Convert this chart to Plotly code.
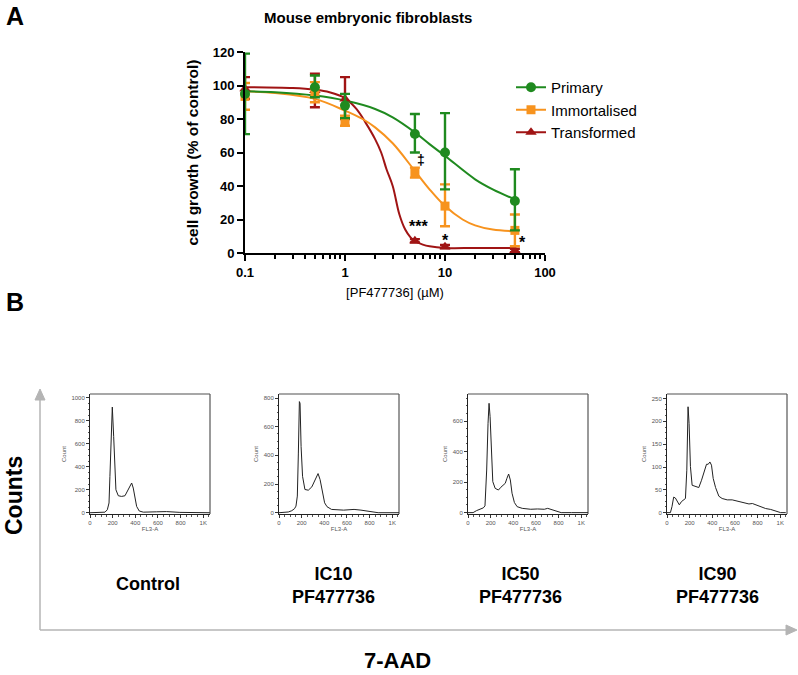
import math
import plotly.graph_objects as go

W, H = 798, 675
FONT = "Arial, Liberation Sans, sans-serif"

# ---------------- Panel A data ----------------
conc = [0.1, 0.5, 1, 5, 10, 50]

primary_mean = [95, 99, 88, 71, 60, 31]
primary_up = [24, 7, 7, 12, 23.5, 19]
primary_dn = [24, 6, 7.5, 11, 22, 17.5]

immort_mean = [93.5, 96, 79, 48, 28, 13.5]
immort_up = [8, 6, 3, 3, 13, 9.5]
immort_dn = [8, 6, 3, 3, 12, 9.5]

transf_mean = [98, 97, 92, 7.3, 3.8, 1.5]
transf_up = [7, 10, 13, 1, 1, 1]
transf_dn = [6, 10, 12, 1, 1, 1]

# fitted curves
primary_fit_x = [0.1, 0.2, 0.5, 1, 2, 3, 5, 7, 10, 20, 30, 50]
primary_fit_y = [96.5, 96, 94, 91, 86, 81, 72, 65, 58, 44, 38, 32]

immort_fit_x = [0.1, 0.2, 0.5, 1, 1.5, 2, 3, 5, 7, 10, 15, 20, 30, 50]
immort_fit_y = [96.5, 95.5, 92, 85, 80, 75, 65.5, 49, 38, 28, 20, 16.5, 14, 13]

transf_fit_x = [0.1, 0.3, 0.5, 0.7, 1, 1.3, 1.6, 2, 2.3, 2.6, 3, 3.5, 4, 4.5, 5, 6, 7, 10, 20, 50]
transf_fit_y = [99, 98.5, 97.5, 96, 92.5, 86, 78, 68, 60, 50, 40, 23, 14, 9.5, 7, 5, 4, 3, 3, 3]

# significance marks: (text, concentration, % value)
sig_marks = [("‡", 5.8, 55.5), ("***", 5.4, 18), ("*", 10.1, 9.7), ("*", 60, 8.8)]

# ---------------- Panel B data ----------------
ctrl_x = [0, 88, 132, 153, 168, 176, 185, 197, 209, 218, 229, 250, 279, 309, 329, 353, 368, 382, 397, 412, 435, 471, 588, 676, 794, 1059]
ctrl_y = [0, 2, 5, 26, 85, 316, 665, 920, 665, 375, 200, 148, 142, 148, 186, 244, 259, 215, 128, 55, 15, 5, 8, 10, 3, 0]

ic10_x = [0, 82, 113, 137, 150, 162, 171, 180, 186, 195, 208, 229, 259, 290, 321, 345, 363, 382, 403, 424, 464, 571, 663, 724, 785, 876, 1060]
ic10_y = [0, 5, 14, 28, 46, 116, 416, 775, 763, 462, 254, 162, 157, 180, 231, 273, 231, 139, 69, 42, 23, 18, 23, 18, 9, 0, 0]

ic50_x = [0, 45, 75, 105, 135, 150, 165, 177, 186, 195, 207, 219, 240, 269, 290, 308, 329, 344, 359, 374, 389, 410, 434, 479, 554, 614, 674, 704, 734, 778, 823, 913, 1060]
ic50_y = [0, 0, 13, 22, 31, 44, 279, 585, 716, 629, 367, 203, 159, 148, 166, 181, 192, 225, 253, 214, 127, 66, 39, 28, 22, 24, 22, 28, 22, 13, 0, 0, 0]

ic90_x = [0, 30, 44, 59, 74, 89, 109, 127, 148, 163, 175, 186, 195, 207, 222, 251, 281, 305, 325, 349, 364, 379, 393, 408, 429, 458, 487, 532, 576, 606, 635, 665, 694, 724, 754, 783, 827, 871, 916, 960, 1004, 1049]
ic90_y = [0, 0, 13, 34, 32, 24, 17, 24, 28, 31, 93, 232, 195, 101, 60, 58, 55, 71, 86, 106, 106, 111, 104, 75, 55, 36, 31, 28, 28, 26, 24, 23, 20, 19, 20, 17, 13, 9, 7, 4, 0, 0]

hist_labels = ["Control", "IC10<br>PF477736", "IC50<br>PF477736", "IC90<br>PF477736"]
hist_ymax = [1000, 800, 600, 250]
hist_ydtick = [200, 200, 200, 50]
hist_yrange = [[-11, 1034], [-9, 828], [-9, 777], [-3, 260]]
fl_ticks = [0, 200, 400, 600, 800, 1000]
fl_ticktext = ["0", "200", "400", "600", "800", "1K"]

GREEN = "#1f8a1f"
ORANGE = "#f7931e"
RED = "#a01414"


def px(x):
    return x / W


def py(y):
    return 1 - y / H


fig = go.Figure()

series = [
    ("Transformed", RED, "triangle-up", 10, transf_fit_x, transf_fit_y, transf_mean, transf_up, transf_dn),
    ("Immortalised", ORANGE, "square", 9, immort_fit_x, immort_fit_y, immort_mean, immort_up, immort_dn),
    ("Primary", GREEN, "circle", 10, primary_fit_x, primary_fit_y, primary_mean, primary_up, primary_dn),
]

for name, color, sym, ms, fx, fy, m, up, dn in series:
    fig.add_trace(go.Scatter(x=fx, y=fy, mode="lines", line=dict(color=color, width=2, shape="spline", smoothing=1.0),
                             showlegend=False, hoverinfo="skip", cliponaxis=False))
for name, color, sym, ms, fx, fy, m, up, dn in series:
    fig.add_trace(go.Scatter(x=conc, y=m, mode="markers", marker=dict(symbol=sym, size=ms, color=color),
                             error_y=dict(type="data", array=up, arrayminus=dn, color=color, thickness=2.4, width=5),
                             showlegend=False, cliponaxis=False))

# legend entries
for name, color, sym, ms in [("Primary", GREEN, "circle", 10), ("Immortalised", ORANGE, "square", 9),
                             ("Transformed", RED, "triangle-up", 10)]:
    fig.add_trace(go.Scatter(x=[None], y=[None], mode="lines+markers", name=name,
                             line=dict(color=color, width=2), marker=dict(symbol=sym, size=ms, color=color)))

# histograms
hist_data = [(ctrl_x, ctrl_y), (ic10_x, ic10_y), (ic50_x, ic50_y), (ic90_x, ic90_y)]
hist_left = [90, 279, 468, 667]
hist_w = 120
hist_top, hist_bot = 394, 514

layout_axes = {}
for i, ((hx, hy), left) in enumerate(zip(hist_data, hist_left)):
    n = i + 2
    fig.add_trace(go.Scatter(x=hx, y=hy, mode="lines", line=dict(color="#222222", width=1),
                             xaxis=f"x{n}", yaxis=f"y{n}", showlegend=False, hoverinfo="skip"))
    layout_axes[f"xaxis{n}"] = dict(
        domain=[px(left), px(left + hist_w)], range=[0, 1060], anchor=f"y{n}",
        showline=True, linecolor="#222222", linewidth=1, showgrid=False, zeroline=False,
        ticks="outside", ticklen=3, tickwidth=0.8, tickcolor="#333333",
        tickvals=fl_ticks, ticktext=fl_ticktext, tickfont=dict(size=6, color="#555555", family=FONT),
        minor=dict(ticks="outside", ticklen=1.5, dtick=50, tickcolor="#555555", tickwidth=0.6),
        title=dict(text="FL3-A", font=dict(size=6, color="#555555", family=FONT), standoff=0),
    )
    yt = list(range(0, hist_ymax[i] + 1, hist_ydtick[i]))
    layout_axes[f"yaxis{n}"] = dict(
        domain=[py(hist_bot), py(hist_top)], range=hist_yrange[i], anchor=f"x{n}",
        showline=True, linecolor="#222222", linewidth=1, showgrid=False, zeroline=False,
        ticks="outside", ticklen=3, tickwidth=0.8, tickcolor="#333333",
        tickvals=yt, tickfont=dict(size=6, color="#555555", family=FONT),
        minor=dict(ticks="outside", ticklen=1.5, dtick=hist_ydtick[i] / 4, tickcolor="#555555", tickwidth=0.6),
        title=dict(text="Count", font=dict(size=6, color="#555555", family=FONT), standoff=4),
    )

minor_x = [m * d for d in (0.1, 1, 10) for m in range(2, 10)]

fig.update_layout(
    width=W, height=H, margin=dict(l=0, r=0, t=0, b=0, pad=0, autoexpand=False),
    paper_bgcolor="white", plot_bgcolor="white",
    font=dict(family=FONT, color="black"),
    xaxis=dict(
        type="log", domain=[px(245), px(545)], range=[-1, 2], anchor="y",
        showline=True, linecolor="black", linewidth=2, showgrid=False, zeroline=False,
        ticks="outside", ticklen=6, tickwidth=2, tickcolor="black",
        tickvals=[0.1, 1, 10, 100], ticktext=["0.1", "1", "10", "100"],
        tickfont=dict(size=13, color="black", family=FONT, weight="bold"),
        minor=dict(ticks="outside", ticklen=3.5, tickwidth=1.5, tickcolor="black", tickvals=minor_x),
        title=dict(text="[PF477736] (µM)", font=dict(size=13, color="black", family=FONT), standoff=9),
    ),
    yaxis=dict(
        domain=[py(253), py(52)], range=[0, 120], anchor="x",
        showline=True, linecolor="black", linewidth=2, showgrid=False, zeroline=False,
        ticks="outside", ticklen=6, tickwidth=2, tickcolor="black",
        tickvals=[0, 20, 40, 60, 80, 100, 120],
        tickfont=dict(size=13, color="black", family=FONT, weight="bold"),
        title=dict(text="cell growth (% of control)", font=dict(size=15.5, color="black", family=FONT, weight="bold"),
                   standoff=10),
    ),
    legend=dict(x=px(511), y=py(71), xanchor="left", yanchor="top", bgcolor="rgba(0,0,0,0)",
                font=dict(size=15, color="black", family=FONT), itemwidth=30, tracegroupgap=0),
    **layout_axes,
)

# frames (top/right gray) of histograms
shapes = []
for left in hist_left:
    shapes.append(dict(type="line", xref="paper", yref="paper", x0=px(left), x1=px(left + hist_w),
                       y0=py(hist_top), y1=py(hist_top), line=dict(color="#8a8a8a", width=1.5), layer="below"))
    shapes.append(dict(type="line", xref="paper", yref="paper", x0=px(left + hist_w), x1=px(left + hist_w),
                       y0=py(hist_top), y1=py(hist_bot), line=dict(color="#555555", width=1.2), layer="below"))

# big gray axes with arrows
AG = "#b4b4b4"
shapes.append(dict(type="line", xref="paper", yref="paper", x0=px(40), x1=px(40), y0=py(630), y1=py(398),
                   line=dict(color=AG, width=1.5)))
shapes.append(dict(type="line", xref="paper", yref="paper", x0=px(40), x1=px(788), y0=py(630), y1=py(630),
                   line=dict(color=AG, width=1.5)))
shapes.append(dict(type="path", xref="paper", yref="paper",
                   path=f"M {px(35)},{py(400)} L {px(45)},{py(400)} L {px(40)},{py(389)} Z",
                   fillcolor=AG, line=dict(color=AG, width=1)))
shapes.append(dict(type="path", xref="paper", yref="paper",
                   path=f"M {px(786)},{py(625)} L {px(786)},{py(635)} L {px(797)},{py(630)} Z",
                   fillcolor=AG, line=dict(color=AG, width=1)))
fig.update_layout(shapes=shapes)


def note(text, x, y, size, **kw):
    return dict(text=text, x=px(x), y=py(y), xref="paper", yref="paper", showarrow=False,
                xanchor="center", yanchor="middle",
                font=dict(size=size, family=FONT, weight="bold", color="black"), **kw)


ann = [
    note("A", 15, 16, 25),
    note("B", 15, 302, 25),
    note("Mouse embryonic fibroblasts", 368, 18, 15),
]
for txt, xv, yv in sig_marks:
    star = txt != "‡"
    ann.append(dict(text=txt, x=math.log10(xv), y=yv, xref="x", yref="y", showarrow=False,
                    yshift=-4 if star else 0, xanchor="center", yanchor="middle",
                    font=dict(size=16 if star else 14, family=FONT, weight="bold", color="black")))
label_pos = [(148, 584), (333, 585), (520, 585), (717, 585)]
for txt, (lx, ly) in zip(hist_labels, label_pos):
    ann.append(note(txt, lx, ly, 18))
ann.append(note("Counts", 14, 496, 23, textangle=-90))
ann.append(note("7-AAD", 397, 660, 22))
fig.update_layout(annotations=ann)

fig.write_html("out.html", config={"displayModeBar": False},
               post_script="document.body.style.margin='0px';")
